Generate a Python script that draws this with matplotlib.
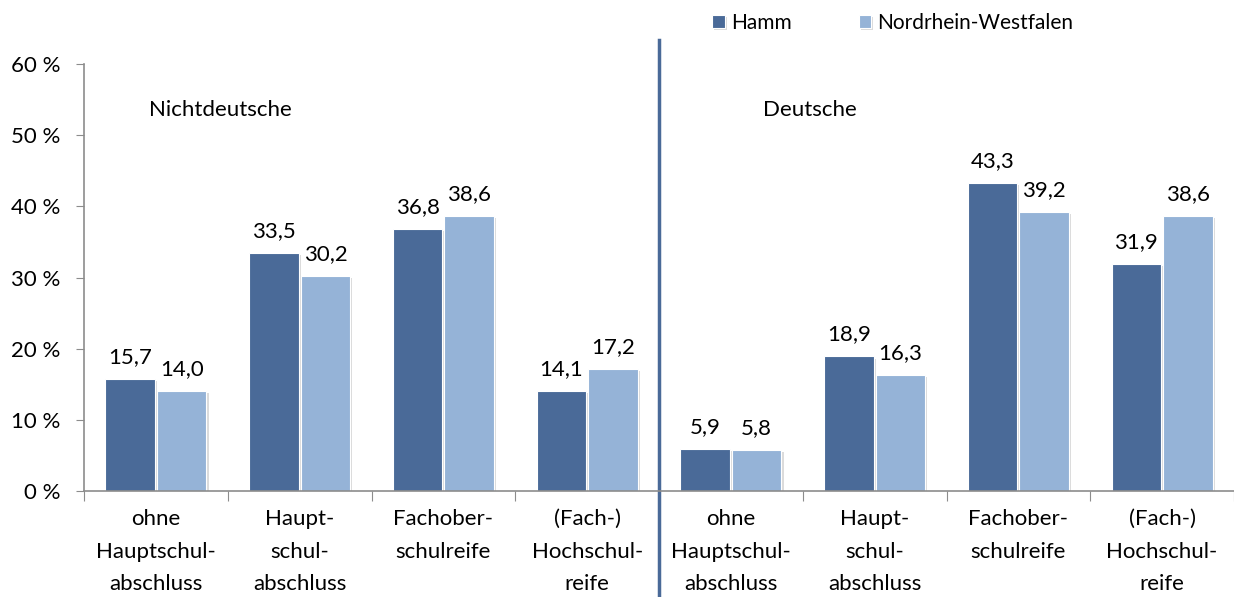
import numpy as np
import matplotlib.pyplot as plt
import matplotlib.patheffects as pe

plt.rcParams['font.family'] = ['Lato', 'DejaVu Sans']

categories = ['ohne\nHauptschul-\nabschluss', 'Haupt-\nschul-\nabschluss',
              'Fachober-\nschulreife', '(Fach-)\nHochschul-\nreife'] * 2
hamm = [15.7, 33.5, 36.8, 14.1, 5.9, 18.9, 43.3, 31.9]
nrw = [14.0, 30.2, 38.6, 17.2, 5.8, 16.3, 39.2, 38.6]
groups = ['Nichtdeutsche', 'Deutsche']

c_hamm = '#4A6A98'
c_nrw = '#95B3D7'
grey = '#8C8C8C'
fs = 16

fig = plt.figure(figsize=(12.34, 5.97), dpi=100)
ax = fig.add_axes([84 / 1234, 106 / 597, 1150 / 1234, 427 / 597])

x = np.arange(len(categories)) + 0.5
w = 0.345
shadow = [pe.SimplePatchShadow(offset=(1.5, -1.5), shadow_rgbFace='#999999', alpha=0.35), pe.Normal()]
b1 = ax.bar(x - w / 2 - 0.007, hamm, w, color=c_hamm, edgecolor='white', linewidth=0.8,
            label='Hamm', path_effects=shadow)
b2 = ax.bar(x + w / 2 + 0.007, nrw, w, color=c_nrw, edgecolor='white', linewidth=0.8,
            label='Nordrhein-Westfalen', path_effects=shadow)

for bars, vals in ((b1, hamm), (b2, nrw)):
    for b, v in zip(bars, vals):
        ax.annotate(f'{v:.1f}'.replace('.', ','), (b.get_x() + b.get_width() / 2, v),
                    xytext=(0, 11.5), textcoords='offset points',
                    ha='center', va='baseline', fontsize=fs, color='black')

ax.set_xlim(0, 8)
ax.set_ylim(0, 60)
ax.set_yticks(np.arange(0, 61, 10))
ax.set_yticklabels([f'{t} %' for t in range(0, 61, 10)])
ax.set_xticks(np.arange(0, 9))
ax.set_xticklabels([])
ax.set_xticks(x, minor=True)
ax.set_xticklabels(categories, minor=True, fontsize=fs, linespacing=1.78)
ax.tick_params(axis='x', which='minor', length=0, pad=13)
ax.tick_params(axis='x', which='major', length=7, color=grey, direction='out')
ax.tick_params(axis='y', length=6, color=grey, pad=11, labelsize=fs)

for s in ('top', 'right'):
    ax.spines[s].set_visible(False)
for s in ('left', 'bottom'):
    ax.spines[s].set_color(grey)
    ax.spines[s].set_linewidth(1.2)

# divider between the two groups
ax.plot([4, 4], [-15, 63.4], color=c_hamm, lw=2.5, clip_on=False)

ax.text(0.95, 53.5, groups[0], ha='center', va='center', fontsize=fs)
ax.text(5.05, 53.5, groups[1], ha='center', va='center', fontsize=fs)

ax.legend(loc='upper left', bbox_to_anchor=(620 / 1150, 1.14), ncol=2, frameon=False,
          fontsize=15, handlelength=0.6, handleheight=0.6, handletextpad=0.3,
          columnspacing=3.2, borderaxespad=0)

fig.savefig('out.png', dpi=100)
